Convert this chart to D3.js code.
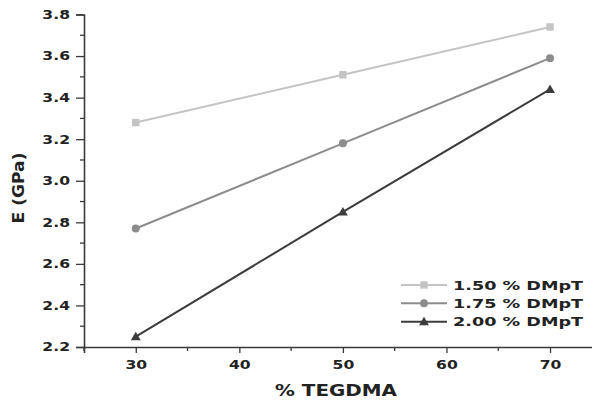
<!DOCTYPE html>
<html>
<head>
<meta charset="utf-8">
<script src="https://cdn.jsdelivr.net/npm/d3@7"></script>
<style>
  html, body { margin: 0; padding: 0; background: #fff; }
  svg { display: block; }
  text { font-family: "DejaVu Sans", Verdana, sans-serif; font-weight: bold; fill: #222; }
</style>
</head>
<body>
<svg id="chart" width="592" height="401"></svg>
<script>
// Young's modulus vs. TEGDMA content for three DMpT concentrations
const tegdma = [30, 50, 70];
const seriesNames = ["1.50 % DMpT", "1.75 % DMpT", "2.00 % DMpT"];
const e150 = [3.28, 3.51, 3.74];
const e175 = [2.77, 3.18, 3.59];
const e200 = [2.25, 2.85, 3.44];
const xTicks = [30, 40, 50, 60, 70];
const yTicks = [2.2, 2.4, 2.6, 2.8, 3.0, 3.2, 3.4, 3.6, 3.8];

const series = [
  { name: seriesNames[0], values: e150, color: "#c4c4c4", marker: "square" },
  { name: seriesNames[1], values: e175, color: "#8c8c8c", marker: "circle" },
  { name: seriesNames[2], values: e200, color: "#3c3c3c", marker: "triangle" }
];

const svg = d3.select("#chart");
const plotLeft = 84, plotBottom = 347, plotTop = 14.5, plotRight = 601.8;

const x = d3.scaleLinear().domain([25, 75]).range([plotLeft, plotRight]);
const y = d3.scaleLinear().domain([2.2, 3.8]).range([plotBottom, plotTop]);

const axisColor = "#3a3a3a";
const stretch = 1.27;

// minor ticks
const xMinor = d3.range(25, 75.01, 5).filter(v => !xTicks.includes(v));
const yMinor = d3.range(2.3, 3.8, 0.2);

svg.append("g").selectAll("line").data(xMinor).join("line")
  .attr("x1", d => x(d)).attr("x2", d => x(d))
  .attr("y1", plotBottom).attr("y2", plotBottom + 4)
  .attr("stroke", axisColor).attr("stroke-width", 1.3);
svg.append("g").selectAll("line").data(yMinor).join("line")
  .attr("x1", plotLeft - 4).attr("x2", plotLeft)
  .attr("y1", d => y(d)).attr("y2", d => y(d))
  .attr("stroke", axisColor).attr("stroke-width", 1.3);

// x axis
const gx = svg.append("g").attr("transform", `translate(0,${plotBottom})`)
  .call(d3.axisBottom(x).tickValues(xTicks).tickSize(6).tickPadding(6).tickFormat(d3.format("d")));
// y axis
const gy = svg.append("g").attr("transform", `translate(${plotLeft},0)`)
  .call(d3.axisLeft(y).tickValues(yTicks).tickSize(8).tickPadding(6).tickFormat(d3.format(".1f")));

[gx, gy].forEach(g => {
  g.select(".domain").attr("stroke", axisColor).attr("stroke-width", 1.6);
  g.selectAll(".tick line").attr("stroke", axisColor).attr("stroke-width", 1.3);
  g.selectAll(".tick text")
    .attr("font-size", 12.3)
    .attr("font-family", "DejaVu Sans, Verdana, sans-serif")
    .attr("font-weight", "bold")
    .attr("fill", "#222");
});
gx.selectAll(".tick text").attr("transform", `scale(${stretch},1)`).attr("x", 0).attr("dy", "0.85em");
gy.selectAll(".tick text").attr("transform", `scale(${stretch},1)`).attr("x", -14 / stretch);

// axis titles
svg.append("text")
  .attr("x", 336).attr("y", 396)
  .attr("text-anchor", "middle")
  .attr("font-size", 15)
  .attr("textLength", 122).attr("lengthAdjust", "spacingAndGlyphs")
  .text("% TEGDMA");

svg.append("text")
  .attr("transform", "translate(24,188) rotate(-90)")
  .attr("text-anchor", "middle")
  .attr("font-size", 15)
  .attr("textLength", 71).attr("lengthAdjust", "spacingAndGlyphs")
  .text("E (GPa)");

// markers
function drawMarker(g, type, cx, cy, color) {
  if (type === "square") {
    g.append("rect").attr("x", cx - 3.7).attr("y", cy - 3.7)
      .attr("width", 7.4).attr("height", 7.4).attr("fill", color);
  } else if (type === "circle") {
    g.append("circle").attr("cx", cx).attr("cy", cy).attr("r", 4).attr("fill", color);
  } else {
    g.append("path")
      .attr("d", d3.symbol().type(d3.symbolTriangle).size(42)())
      .attr("transform", `translate(${cx},${cy + 0.8})`)
      .attr("fill", color);
  }
}

const line = d3.line().x((d, i) => x(tegdma[i])).y(d => y(d));

series.forEach(s => {
  const g = svg.append("g");
  g.append("path").datum(s.values)
    .attr("d", line)
    .attr("fill", "none")
    .attr("stroke", s.color)
    .attr("stroke-width", 2);
  s.values.forEach((v, i) => drawMarker(g, s.marker, x(tegdma[i]), y(v), s.color));
});

// legend
const legendRows = [285, 303.3, 321.7];
series.forEach((s, i) => {
  const g = svg.append("g");
  const ly = legendRows[i];
  g.append("line").attr("x1", 401).attr("x2", 447).attr("y1", ly).attr("y2", ly)
    .attr("stroke", s.color).attr("stroke-width", 2);
  drawMarker(g, s.marker, 424, ly, s.color);
  g.append("text")
    .attr("x", 453).attr("y", ly + 4.5)
    .attr("font-size", 12)
    .attr("textLength", 130).attr("lengthAdjust", "spacingAndGlyphs")
    .text(s.name);
});
</script>
</body>
</html>
